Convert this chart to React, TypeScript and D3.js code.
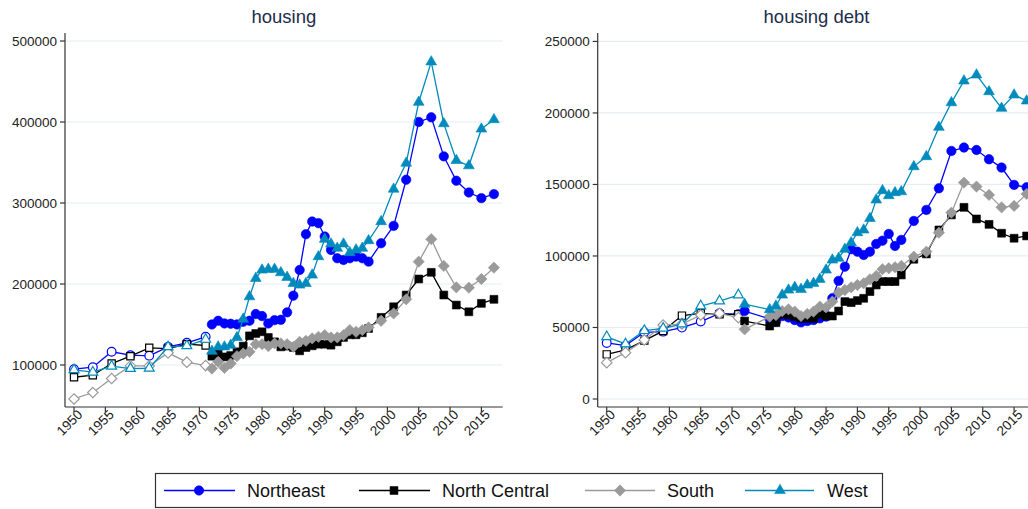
import React from 'react';
import * as d3 from 'd3';

// ---------- data ----------
const regions = ['Northeast', 'North Central', 'South', 'West'];
const regionColors = ['#0000ff', '#000000', '#9a9a9a', '#008bbc'];

const yearsEarly = [1950, 1953, 1956, 1959, 1962, 1965, 1968, 1971];
const yearsLateHousing = [
  1972, 1973, 1974, 1975, 1976, 1977, 1978, 1979, 1980, 1981, 1982, 1983, 1984,
  1985, 1986, 1987, 1988, 1989, 1990, 1991, 1992, 1993, 1994, 1995, 1996, 1997,
  1999, 2001, 2003, 2005, 2007, 2009, 2011, 2013, 2015, 2017,
];
const yearsLateDebt = [
  1972, 1976, 1977, 1978, 1979, 1980, 1981, 1982, 1983, 1984, 1985, 1986, 1987,
  1988, 1989, 1990, 1991, 1992, 1993, 1994, 1995, 1996, 1997,
  1999, 2001, 2003, 2005, 2007, 2009, 2011, 2013, 2015, 2017,
];

// housing (early, hollow markers)
const housingEarlyNE = [94800, 97300, 116300, 112100, 111300, 122400, 127400, 134800];
const housingEarlyNC = [84900, 87400, 101800, 110900, 121200, 120300, 125700, 124100];
const housingEarlySO = [58100, 66000, 83300, 98900, 98900, 115000, 103500, 99300];
const housingEarlyWE = [94000, 91100, 98500, 95600, 96000, 122400, 123700, 131600];

// housing (late, filled markers)
const housingLateNE = [
  150100, 154600, 151300, 150900, 150100, 153400, 154600, 162900, 160400, 151300,
  155400, 155800, 165000, 185600, 217300, 261500, 277100, 275100, 258600, 242100,
  231800, 229700, 231800, 233800, 231800, 227600,
  250300, 271800, 328700, 400100, 405800, 357600, 327500, 313000, 306000, 311000,
];
const housingLateNC = [
  110900, 114200, 110000, 111700, 116300, 123300, 136000, 138900, 141000, 134000,
  128600, 122400, 123300, 121600, 117500, 121600, 123700, 125700, 125700, 124500,
  128600, 134000, 137300, 137300, 139800, 145100,
  158800, 171900, 186400, 206200, 214400, 186400, 174000, 165700, 176100, 181100,
];
const housingLateSO = [
  95600, 103900, 96400, 101800, 110900, 114200, 116300, 125700, 125700, 123300,
  126600, 126600, 125700, 122400, 128600, 129900, 132800, 134800, 136900, 134000,
  134000, 136900, 143100, 141000, 143100, 146400,
  154600, 163700, 181100, 227600, 255300, 222300, 195900, 195500, 206200, 220200,
];
const housingLateWE = [
  117000, 122400, 122400, 124500, 134000, 156700, 184300, 207000, 217300, 218200,
  218200, 214000, 208300, 200800, 198800, 200800, 211100, 233800, 255300, 249500,
  244200, 249500, 238800, 242100, 244200, 253600,
  277100, 317200, 349300, 424400, 474300, 398000, 352600, 346000, 391400, 403000,
];

// housing debt (early, hollow markers)
const debtEarlyNE = [39200, 37300, 46600, 47100, 49900, 54100, 59900, 59200];
const debtEarlyNC = [31200, 34300, 40800, 47600, 58300, 59900, 59200, 59200];
const debtEarlySO = [25400, 32400, 41300, 51700, 52400, 58700, 59900, 56900];
const debtEarlyWE = [43500, 38500, 47800, 49400, 52400, 65000, 68500, 72700];

// housing debt (late, filled markers)
const debtLateNE = [
  61500, 56000, 54100, 58000, 57000, 55200, 53600, 54500, 55200, 56400, 57600,
  70400, 82600, 92500, 104700, 103000, 100700, 103000, 108400, 110700, 115400,
  107000, 111200,
  124500, 132200, 147300, 173400, 175800, 174100, 167600, 161800, 149700, 148000,
];
const debtLateNC = [
  54500, 51000, 53400, 59200, 58700, 57600, 56400, 56400, 56400, 59200, 58000,
  58000, 61500, 68100, 67400, 68800, 70400, 75100, 79700, 82100, 82100, 82100,
  86700,
  97700, 101400, 118200, 128700, 134000, 125900, 122100, 115900, 112400, 114000,
];
const debtLateSO = [
  48700, 57600, 58700, 61500, 62700, 61100, 58000, 59500, 61100, 64600, 64100,
  68100, 74400, 76200, 78100, 79700, 80900, 83700, 86000, 90700, 91400, 92100,
  93000,
  99500, 103000, 116300, 130300, 151300, 148500, 142700, 134000, 135000, 143400,
];
const debtLateWE = [
  66300, 62500, 65000, 72700, 76200, 78100, 76700, 79700, 80900, 83700, 90200,
  97200, 98400, 104700, 109300, 116300, 118200, 126300, 139200, 145700, 142200,
  144300, 145000,
  162500, 169500, 190000, 207200, 222400, 226600, 214900, 203300, 212600, 208400,
];

const xTicks = [1950, 1955, 1960, 1965, 1970, 1975, 1980, 1985, 1990, 1995, 2000, 2005, 2010, 2015];
const housingTicks = [100000, 200000, 300000, 400000, 500000];
const debtTicks = [0, 50000, 100000, 150000, 200000, 250000];

// ---------- styling ----------
const FONT = "'Liberation Sans', Arial, Helvetica, sans-serif";
const diamondType = {
  draw(ctx: any, size: number) {
    const r = Math.sqrt(size / 2);
    ctx.moveTo(0, -r);
    ctx.lineTo(r, 0);
    ctx.lineTo(0, r);
    ctx.lineTo(-r, 0);
    ctx.closePath();
  },
};
const symbolTypes = [d3.symbolCircle, d3.symbolSquare, diamondType, d3.symbolTriangle];
const symbolSizes = [70, 62, 64, 50];

type PanelSpec = {
  title: string;
  x0: number;
  x1: number;
  yDomain: [number, number];
  yTicks: number[];
  early: number[][];
  lateYears: number[];
  late: number[][];
};

const Y0 = 33;
const Y1 = 407;

const panels: PanelSpec[] = [
  {
    title: 'housing',
    x0: 65,
    x1: 502.7,
    yDomain: [48150, 509900],
    yTicks: housingTicks,
    early: [housingEarlyNE, housingEarlyNC, housingEarlySO, housingEarlyWE],
    lateYears: yearsLateHousing,
    late: [housingLateNE, housingLateNC, housingLateSO, housingLateWE],
  },
  {
    title: 'housing debt',
    x0: 597.7,
    x1: 1035.4,
    yDomain: [-5600, 255900],
    yTicks: debtTicks,
    early: [debtEarlyNE, debtEarlyNC, debtEarlySO, debtEarlyWE],
    lateYears: yearsLateDebt,
    late: [debtLateNE, debtLateNC, debtLateSO, debtLateWE],
  },
];

function Panel({ p }: { p: PanelSpec }) {
  const x = d3.scaleLinear().domain([1948.56, 2018.4]).range([p.x0, p.x1]);
  const y = d3.scaleLinear().domain(p.yDomain).range([Y1, Y0]);
  const line = d3
    .line<[number, number]>()
    .x((d) => x(d[0]))
    .y((d) => y(d[1]));

  const renderSeries = (years: number[], vals: number[], i: number, hollow: boolean, key: string) => {
    const pts: [number, number][] = years.map((yr, k) => [yr, vals[k]]);
    const sym = d3.symbol().type(symbolTypes[i] as any).size(hollow ? symbolSizes[i] * 0.85 : symbolSizes[i]);
    const path = sym() as string;
    return (
      <g key={key}>
        <path d={line(pts) as string} fill="none" stroke={regionColors[i]} strokeWidth={1.3} />
        {pts.map((d, k) => (
          <path
            key={k}
            d={path}
            transform={`translate(${x(d[0])},${y(d[1])})`}
            fill={hollow ? '#ffffff' : regionColors[i]}
            stroke={regionColors[i]}
            strokeWidth={hollow ? 1.2 : 0.6}
          />
        ))}
      </g>
    );
  };

  return (
    <g>
      <text
        x={(p.x0 + p.x1) / 2}
        y={23}
        textAnchor="middle"
        fontFamily={FONT}
        fontSize={18.5}
        fill="#1c2c4c"
      >
        {p.title}
      </text>
      {p.yTicks.map((t) => (
        <line key={'g' + t} x1={p.x0} x2={p.x1} y1={y(t)} y2={y(t)} stroke="#e5eef1" strokeWidth={1.2} />
      ))}
      {p.early.map((vals, i) => renderSeries(yearsEarly, vals, i, true, 'e' + i))}
      {p.late.map((vals, i) => renderSeries(p.lateYears, vals, i, false, 'l' + i))}
      <line x1={p.x0} x2={p.x0} y1={Y0} y2={Y1} stroke="#333" strokeWidth={1.2} />
      <line x1={p.x0} x2={p.x1} y1={Y1} y2={Y1} stroke="#333" strokeWidth={1.2} />
      {p.yTicks.map((t) => (
        <g key={'yt' + t}>
          <line x1={p.x0 - 5} x2={p.x0} y1={y(t)} y2={y(t)} stroke="#333" strokeWidth={1.2} />
          <text
            x={p.x0 - 8}
            y={y(t)}
            dy="0.35em"
            textAnchor="end"
            fontFamily={FONT}
            fontSize={13.5}
            fill="#222"
          >
            {t}
          </text>
        </g>
      ))}
      {xTicks.map((t) => (
        <g key={'xt' + t}>
          <line x1={x(t)} x2={x(t)} y1={Y1} y2={Y1 + 5} stroke="#333" strokeWidth={1.2} />
          <text
            transform={`translate(${x(t) + 6},${Y1 + 5}) rotate(-45)`}
            dy="0.35em"
            textAnchor="end"
            fontFamily={FONT}
            fontSize={13.5}
            fill="#222"
          >
            {t}
          </text>
        </g>
      ))}
    </g>
  );
}

const legendItems = [
  { l0: 164, l1: 235, m: 199, t: 247 },
  { l0: 359, l1: 430, m: 394, t: 442 },
  { l0: 585, l1: 655, m: 620, t: 667 },
  { l0: 745, l1: 814, m: 780, t: 827 },
];

export default function App() {
  const W = 1028;
  const H = 509;
  const ly = 490.5;
  return (
    <svg
      width={W}
      height={H}
      style={{ position: 'absolute', left: 0, top: 0, background: '#fff' }}
    >
      <rect x={0} y={0} width={W} height={H} fill="#fff" />
      {panels.map((p, i) => (
        <Panel key={i} p={p} />
      ))}
      <rect x={155.5} y={473.5} width={727} height={34} fill="#fff" stroke="#333" strokeWidth={1.2} />
      {legendItems.map((it, i) => {
        const path = d3.symbol().type(symbolTypes[i] as any).size(symbolSizes[i])() as string;
        return (
          <g key={i}>
            <line x1={it.l0} x2={it.l1} y1={ly} y2={ly} stroke={regionColors[i]} strokeWidth={1.3} />
            <path d={path} transform={`translate(${it.m},${ly})`} fill={regionColors[i]} stroke={regionColors[i]} strokeWidth={0.6} />
            <text x={it.t} y={ly} dy="0.36em" fontFamily={FONT} fontSize={18} fill="#111">
              {regions[i]}
            </text>
          </g>
        );
      })}
    </svg>
  );
}
